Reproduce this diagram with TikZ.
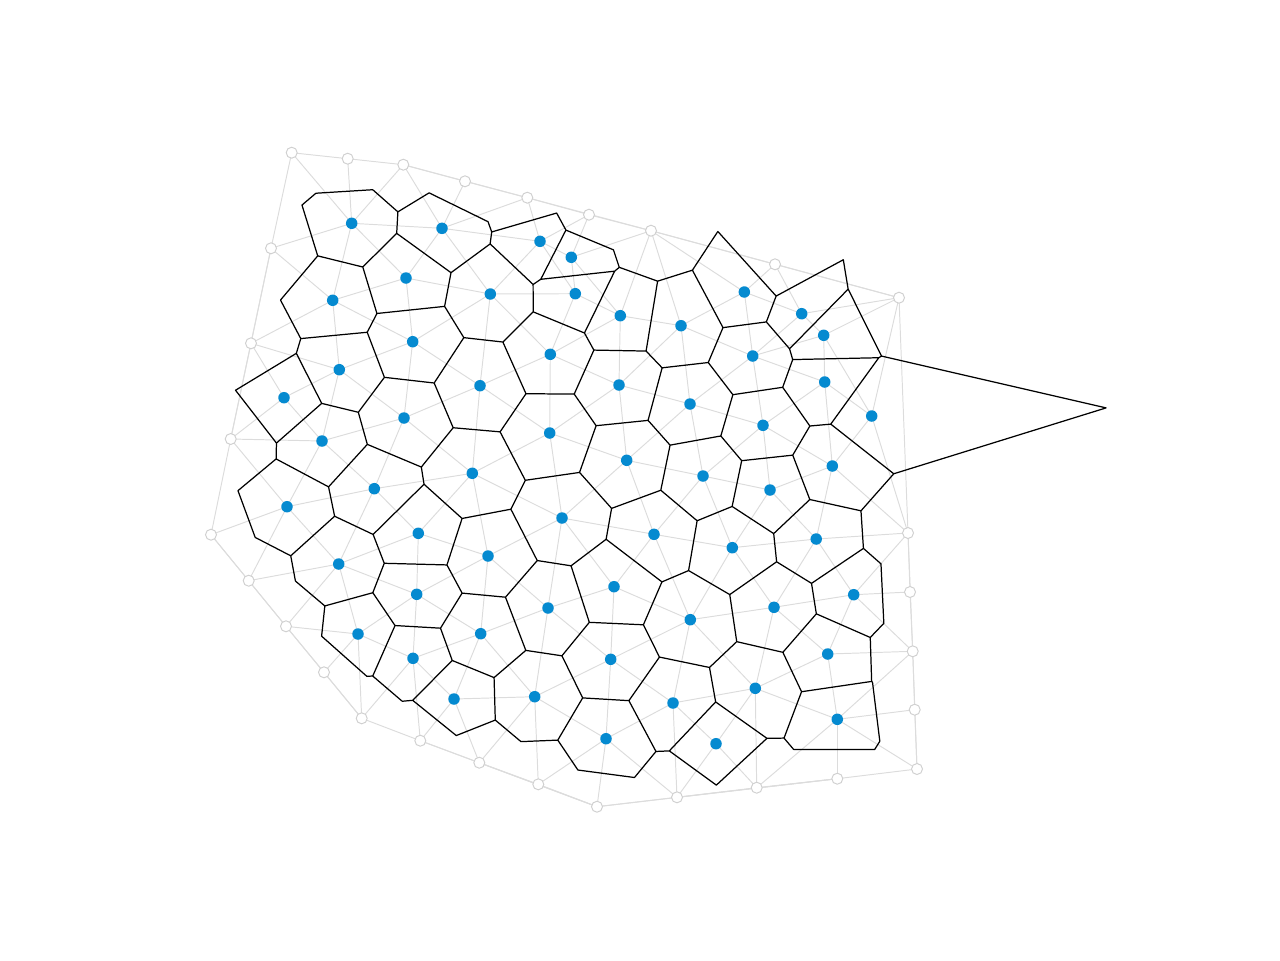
\documentclass[tikz,border=0pt]{standalone}
\definecolor{dotblue}{RGB}{5,138,208}
\definecolor{edgegray}{RGB}{220,220,220}
\definecolor{ringgray}{RGB}{208,208,208}

\newcount\vorN
\newcount\vorI \newcount\vorJ \newcount\vorK
\newcount\vorAx \newcount\vorAy \newcount\vorBx \newcount\vorBy
\newcount\vorMx \newcount\vorMy \newcount\vorDx \newcount\vorDy
\newcount\vorLL \newcount\vorQx \newcount\vorQy
\newcount\vorA \newcount\vorB \newcount\vorT
\newcount\vorLo \newcount\vorHi \newcount\vorLim \newcount\vorAbsA
\newif\ifvorok
\let\vorgrayedge\relax
\let\vorblackedge\relax
\def\vorGray{}
\def\vorBlack{}

\def\vorpt#1#2#3{\global\advance\vorN by 1
  \expandafter\xdef\csname vorX\the\vorN\endcsname{#1}%
  \expandafter\xdef\csname vorY\the\vorN\endcsname{#2}%
  \expandafter\xdef\csname vorT\the\vorN\endcsname{#3}}

% boundary points (deci-pixels)
\vorpt{2917}{1527}{0}\vorpt{3477}{1587}{0}\vorpt{4033}{1647}{0}
\vorpt{4650}{1813}{0}\vorpt{5273}{1977}{0}\vorpt{5890}{2147}{0}
\vorpt{6510}{2307}{0}\vorpt{7750}{2643}{0}\vorpt{8990}{2977}{0}
\vorpt{2710}{2483}{0}\vorpt{2510}{3433}{0}\vorpt{2307}{4390}{0}
\vorpt{2110}{5347}{0}\vorpt{2487}{5807}{0}\vorpt{2860}{6263}{0}
\vorpt{3240}{6723}{0}\vorpt{3617}{7183}{0}\vorpt{4203}{7407}{0}
\vorpt{4793}{7627}{0}\vorpt{5383}{7843}{0}\vorpt{5970}{8067}{0}
\vorpt{6770}{7973}{0}\vorpt{7567}{7877}{0}\vorpt{8373}{7787}{0}
\vorpt{9170}{7690}{0}\vorpt{9147}{7097}{0}\vorpt{9127}{6513}{0}
\vorpt{9100}{5920}{0}\vorpt{9080}{5330}{0}
% interior seeds
\vorpt{3517}{2233}{1}\vorpt{4420}{2283}{1}\vorpt{4060}{2780}{1}
\vorpt{3327}{3003}{1}\vorpt{4903}{2940}{1}\vorpt{4127}{3417}{1}
\vorpt{3393}{3697}{1}\vorpt{2840}{3977}{1}\vorpt{4800}{3857}{1}
\vorpt{4040}{4180}{1}\vorpt{3220}{4410}{1}\vorpt{4723}{4733}{1}
\vorpt{5400}{2413}{1}\vorpt{5713}{2573}{1}\vorpt{5753}{2937}{1}
\vorpt{6203}{3157}{1}\vorpt{6810}{3257}{1}\vorpt{7443}{2920}{1}
\vorpt{8017}{3137}{1}\vorpt{5503}{3543}{1}\vorpt{6190}{3850}{1}
\vorpt{7527}{3560}{1}\vorpt{6900}{4040}{1}\vorpt{7630}{4253}{1}
\vorpt{5497}{4330}{1}\vorpt{6267}{4603}{1}\vorpt{7030}{4760}{1}
\vorpt{8237}{3353}{1}\vorpt{8247}{3820}{1}\vorpt{8717}{4160}{1}
\vorpt{8323}{4660}{1}\vorpt{2870}{5067}{1}\vorpt{3743}{4887}{1}
\vorpt{4183}{5333}{1}\vorpt{4880}{5560}{1}\vorpt{3387}{5640}{1}
\vorpt{4167}{5943}{1}\vorpt{3580}{6340}{1}\vorpt{4807}{6337}{1}
\vorpt{4130}{6583}{1}\vorpt{4540}{6990}{1}\vorpt{5620}{5180}{1}
\vorpt{6540}{5343}{1}\vorpt{7323}{5477}{1}\vorpt{7700}{4900}{1}
\vorpt{8162}{5390}{1}\vorpt{6140}{5867}{1}\vorpt{5480}{6080}{1}
\vorpt{6903}{6197}{1}\vorpt{7740}{6073}{1}\vorpt{6107}{6593}{1}
\vorpt{5347}{6967}{1}\vorpt{6730}{7030}{1}\vorpt{7553}{6883}{1}
\vorpt{6060}{7387}{1}\vorpt{7160}{7437}{1}\vorpt{8537}{5947}{1}
\vorpt{8277}{6540}{1}\vorpt{8373}{7193}{1}
\edef\vorNN{\the\vorN}

\def\vorstep{%
  \ifnum\vorK=\vorI \else\ifnum\vorK=\vorJ \else
    \vorQx=\numexpr 2*\csname vorX\the\vorK\endcsname-\vorMx\relax
    \vorQy=\numexpr 2*\csname vorY\the\vorK\endcsname-\vorMy\relax
    \vorA=\numexpr\vorDx*\vorQx+\vorDy*\vorQy\relax
    \vorB=\numexpr\vorQx*\vorQx+\vorQy*\vorQy-\vorLL\relax
    \ifnum\vorB<0 \vorLim=-\vorB \else \vorLim=\vorB \fi
    \divide\vorLim by 4000000
    \ifnum\vorA<0 \vorAbsA=-\vorA \else \vorAbsA=\vorA \fi
    \ifnum\vorAbsA>\vorLim
      \vorT=\numexpr\vorB*250/\vorA\relax
      \ifnum\vorA>0
        \ifnum\vorT<\vorHi \vorHi=\vorT \fi
      \else
        \ifnum\vorT>\vorLo \vorLo=\vorT \fi
      \fi
    \else
      \ifnum\vorB<0 \vorokfalse \fi
    \fi
    \ifnum\vorLo<\vorHi \else \vorokfalse \fi
    \ifvorok \else \vorK=\vorN \fi
  \fi\fi}

\def\vorloopK{%
  \ifnum\vorK>\vorN \let\vornextK\relax
  \else
    \vorstep
    \advance\vorK by 1
    \let\vornextK\vorloopK
  \fi
  \vornextK}

\def\vorrecord{%
  \xdef\vorGray{\vorGray\noexpand\vorgrayedge{\the\vorI}{\the\vorJ}}%
  \ifnum\numexpr\csname vorT\the\vorI\endcsname+\csname vorT\the\vorJ\endcsname\relax>0
    \ifnum\vorLo<-20000 \vorLo=-20000 \fi
    \ifnum\vorHi>20000 \vorHi=20000 \fi
    \xdef\vorBlack{\vorBlack\noexpand\vorblackedge
      {\the\numexpr(500*\vorMx+\vorLo*\vorDx)*372936/100000\relax}%
      {\the\numexpr(500*\vorMy+\vorLo*\vorDy)*-372936/100000\relax}%
      {\the\numexpr(500*\vorMx+\vorHi*\vorDx)*372936/100000\relax}%
      {\the\numexpr(500*\vorMy+\vorHi*\vorDy)*-372936/100000\relax}}%
  \fi}

\def\vorpair{%
  \vorAx=\csname vorX\the\vorI\endcsname\relax
  \vorAy=\csname vorY\the\vorI\endcsname\relax
  \vorBx=\csname vorX\the\vorJ\endcsname\relax
  \vorBy=\csname vorY\the\vorJ\endcsname\relax
  \vorDx=\numexpr\vorBy-\vorAy\relax
  \vorDy=\numexpr\vorAx-\vorBx\relax
  \vorLL=\numexpr\vorDx*\vorDx+\vorDy*\vorDy\relax
  \ifnum\vorLL>6760000 \else
    \vorMx=\numexpr\vorAx+\vorBx\relax
    \vorMy=\numexpr\vorAy+\vorBy\relax
    \vorLo=-2000000000 \vorHi=2000000000
    \voroktrue
    \vorK=1
    \vorloopK
    \ifvorok \vorrecord \fi
  \fi}

\def\vorloopJ{%
  \ifnum\vorJ>\vorN \let\vornextJ\relax
  \else
    \vorpair
    \advance\vorJ by 1
    \let\vornextJ\vorloopJ
  \fi
  \vornextJ}

\def\vorloopI{%
  \ifnum\vorI<\vorN
    \vorJ=\vorI \advance\vorJ by 1
    \vorloopJ
    \advance\vorI by 1
    \let\vornextI\vorloopI
  \else \let\vornextI\relax \fi
  \vornextI}

\vorI=1
\vorloopI

\begin{document}
\begin{tikzpicture}[x=0.002cm,y=-0.002cm,
  grayedge/.style={draw=edgegray,line width=0.55pt},
  ring/.style={draw=ringgray,fill=white,line width=0.55pt},
  seed/.style={fill=dotblue}]
\useasboundingbox (0,0) rectangle (12800,9600);
\foreach \n in {1,...,\vorNN}{%
  \coordinate (v\n) at (\csname vorX\n\endcsname,\csname vorY\n\endcsname);}
% Delaunay edges
\def\vorgrayedge#1#2{\draw[grayedge] (v#1) -- (v#2);}
\vorGray
% Voronoi cell edges
\begin{scope}
\pgfsetlinewidth{0.7pt}\pgfsetroundcap\pgfsetroundjoin
\pgfsetstrokecolor{black}
\def\vorblackedge#1#2#3#4{\pgfpathmoveto{\pgfqpoint{#1sp}{#2sp}}%
  \pgfpathlineto{\pgfqpoint{#3sp}{#4sp}}}
\vorBlack
\pgfusepath{stroke}
\end{scope}
% points
\foreach \n in {1,...,\vorNN}{%
  \ifnum\csname vorT\n\endcsname=1\relax
    \fill[seed] (v\n) circle[radius=1.15mm];
  \else
    \draw[ring] (v\n) circle[radius=1.1mm];
  \fi}
\end{tikzpicture}
\end{document}
